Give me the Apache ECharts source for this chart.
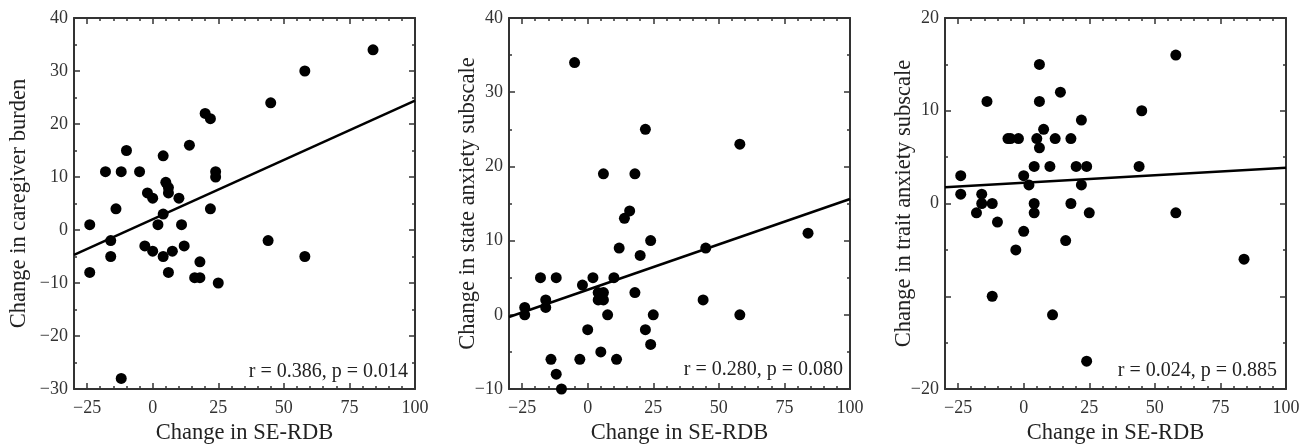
<!DOCTYPE html>
<html>
<head>
<meta charset="utf-8">
<script src="https://cdn.jsdelivr.net/npm/echarts@6/dist/echarts.min.js"></script>
<style>html,body{margin:0;padding:0;background:#fff}#c{width:1301px;height:444px}</style>
</head>
<body>
<div id="c"></div>
<script>
// ---- data ----
const X_TICKS = [-25, 0, 25, 50, 75, 100];
const X_TITLE = 'Change in SE-RDB';
const Y_TITLES = ['Change in caregiver burden', 'Change in state anxiety subscale', 'Change in trait anxiety subscale'];
const Y_RANGES = [[-30, 40], [-10, 40], [-20, 20]];
const Y_HIDDEN_LABELS = [[], [], [-10]];
const STATS = ['r = 0.386, p = 0.014', 'r = 0.280, p = 0.080', 'r = 0.024, p = 0.885'];

const burdenX = [-24,-24,-18,-16,-16,-14,-12,-12,-10,-5,-3,-2,0,0,2,4,4,4,5,6,6,6,7.5,10,11,12,14,16,18,18,20,22,22,24,24,25,44,45,58,58,84];
const burdenY = [1,-8,11,-2,-5,4,11,-28,15,11,-3,7,6,-4,1,14,3,-5,9,8,7,-8,-4,6,1,-3,16,-9,-6,-9,22,21,4,11,10,-10,-2,24,30,-5,34];

const stateX = [-24,-24,-18,-16,-16,-14,-12,-12,-10,-5,-3,-2,0,2,4,4,5,6,6,6,7.6,10,11,12,14,16,18,18,20,22,22,24,24,25,44,45,58,58,84];
const stateY = [1,0,5,2,1,-6,5,-8,-10,34,-6,4,-2,5,3,2,-5,19,3,2,0,5,-6,9,13,14,19,3,8,25,-2,10,-4,0,2,9,23,0,11];

const traitX = [-24,-24,-18,-16,-16,-14,-12,-12,-10,-6,-5,-3,-2,0,0,2,4,4,4,5,6,6,6,7.6,10,11,12,14,16,18,18,20,22,22,24,24,25,44,45,58,58,84];
const traitY = [3,1,-1,1,0,11,0,-10,-2,7,7,-5,7,3,-3,2,4,0,-1,7,15,11,6,8,4,-12,7,12,-4,7,0,4,9,2,4,-17,-1,4,10,16,-1,-6];

// regression line end points
const burdenFit = [[-30, -4.7], [100, 24.4]];
const stateFit = [[-30, -0.3], [100, 15.6]];
const traitFit = [[-30, 1.75], [100, 3.85]];

// ---- chart ----
const XS = [burdenX, stateX, traitX];
const YS = [burdenY, stateY, traitY];
const FITS = [burdenFit, stateFit, traitFit];
const LEFTS = [74, 509, 945];
const Y_NAME_GAPS = [43, 29, 29];
const STAT_POS = [[408, 372], [843, 370], [1277, 371]];
const FONT = '"Liberation Serif", "Times New Roman", serif';
const LINE = {color: '#333', width: 2};
const TICK = {color: '#333', width: 1.5};
const minus = v => String(v).replace('-', '\u2212');

const grids = [], xAxes = [], yAxes = [], series = [], graphics = [];
for (let i = 0; i < 3; i++) {
  grids.push({left: LEFTS[i], top: 18, width: 341, height: 371, containLabel: false, outerBoundsMode: 'none'});
  const xb = {gridIndex: i, type: 'value', min: -30, max: 100, splitLine: {show: false}};
  xAxes.push(
    Object.assign({}, xb, {position: 'bottom', name: X_TITLE, nameLocation: 'middle', nameGap: 33, nameMoveOverlap: false,
      nameTextStyle: {fontFamily: FONT, fontSize: 22.5, color: '#222'},
      axisLine: {show: true, onZero: false, lineStyle: LINE},
      axisTick: {show: true, inside: true, length: 6, customValues: X_TICKS, lineStyle: TICK},
      axisLabel: {show: true, customValues: X_TICKS, margin: 10, fontFamily: FONT, fontSize: 18, color: '#333', formatter: minus}}),
    Object.assign({}, xb, {position: 'bottom', interval: 5,
      axisLine: {show: false, onZero: false}, axisTick: {show: true, inside: true, length: 3, lineStyle: TICK}, axisLabel: {show: false}}),
    Object.assign({}, xb, {position: 'top',
      axisLine: {show: true, onZero: false, lineStyle: LINE},
      axisTick: {show: true, inside: true, length: 6, customValues: X_TICKS, lineStyle: TICK}, axisLabel: {show: false}}),
    Object.assign({}, xb, {position: 'top', interval: 5,
      axisLine: {show: false, onZero: false}, axisTick: {show: true, inside: true, length: 3, lineStyle: TICK}, axisLabel: {show: false}})
  );
  const [ymin, ymax] = Y_RANGES[i];
  const hidden = Y_HIDDEN_LABELS[i];
  const yb = {gridIndex: i, type: 'value', min: ymin, max: ymax, splitLine: {show: false}};
  yAxes.push(
    Object.assign({}, yb, {position: 'left', interval: 10, name: Y_TITLES[i], nameLocation: 'middle',
      nameGap: Y_NAME_GAPS[i], nameMoveOverlap: false,
      nameTextStyle: {fontFamily: FONT, fontSize: 22.5, color: '#222'},
      axisLine: {show: true, onZero: false, lineStyle: LINE},
      axisTick: {show: true, inside: true, length: 6, lineStyle: TICK},
      axisLabel: {show: true, margin: 6, fontFamily: FONT, fontSize: 18, color: '#333',
        formatter: v => hidden.indexOf(v) >= 0 ? '' : minus(v)}}),
    Object.assign({}, yb, {position: 'left', interval: 5,
      axisLine: {show: false, onZero: false}, axisTick: {show: true, inside: true, length: 3, lineStyle: TICK}, axisLabel: {show: false}}),
    Object.assign({}, yb, {position: 'right', interval: 10,
      axisLine: {show: true, onZero: false, lineStyle: LINE},
      axisTick: {show: true, inside: true, length: 6, lineStyle: TICK}, axisLabel: {show: false}}),
    Object.assign({}, yb, {position: 'right', interval: 5,
      axisLine: {show: false, onZero: false}, axisTick: {show: true, inside: true, length: 3, lineStyle: TICK}, axisLabel: {show: false}})
  );
  series.push({
    type: 'scatter', xAxisIndex: 4 * i, yAxisIndex: 4 * i, symbol: 'circle', symbolSize: 11,
    itemStyle: {color: '#000', opacity: 1}, clip: false, silent: true,
    data: XS[i].map((x, k) => [x, YS[i][k]])
  });
  series.push({
    type: 'line', xAxisIndex: 4 * i, yAxisIndex: 4 * i, symbol: 'none', silent: true,
    lineStyle: {color: '#000', width: 2.5}, data: FITS[i]
  });
  graphics.push({type: 'text', x: STAT_POS[i][0], y: STAT_POS[i][1],
    style: {text: STATS[i], fontFamily: FONT, fontSize: 20, fill: '#222', align: 'right', verticalAlign: 'middle'}});
}

const chart = echarts.init(document.getElementById('c'), null, {renderer: 'canvas'});
chart.setOption({
  animation: false,
  backgroundColor: '#fff',
  grid: grids, xAxis: xAxes, yAxis: yAxes, series: series, graphic: graphics
});
</script>
</body>
</html>
